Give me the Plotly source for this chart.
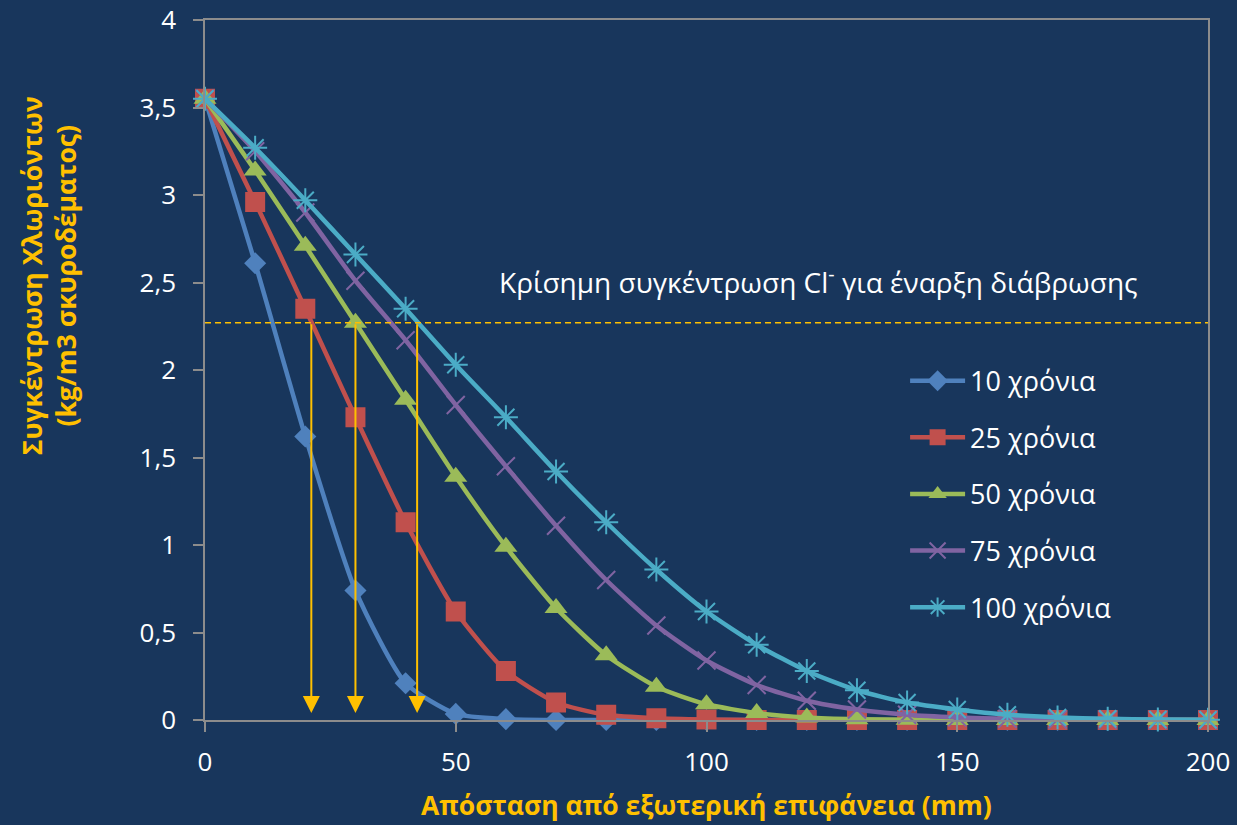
import plotly.graph_objects as go

# ---------------- data ----------------
distance_mm = [0, 10, 20, 30, 40, 50, 60, 70, 80, 90, 100, 110, 120, 130, 140, 150, 160, 170, 180, 190, 200]

years_10 = [3.55, 2.61, 1.62, 0.74, 0.21, 0.035, 0.005, 0.0, 0.0, 0.0, 0.0, 0.0, 0.0, 0.0, 0.0, 0.0, 0.0, 0.0, 0.0, 0.0, 0.0]
years_25 = [3.55, 2.96, 2.35, 1.73, 1.13, 0.62, 0.28, 0.10, 0.03, 0.01, 0.003, 0.0, 0.0, 0.0, 0.0, 0.0, 0.0, 0.0, 0.0, 0.0, 0.0]
years_50 = [3.55, 3.14, 2.71, 2.27, 1.83, 1.39, 0.99, 0.64, 0.37, 0.19, 0.09, 0.04, 0.015, 0.005, 0.002, 0.0, 0.0, 0.0, 0.0, 0.0, 0.0]
years_75 = [3.55, 3.25, 2.90, 2.51, 2.17, 1.80, 1.45, 1.11, 0.80, 0.54, 0.34, 0.20, 0.11, 0.06, 0.03, 0.015, 0.007, 0.003, 0.001, 0.0, 0.0]
years_100 = [3.55, 3.27, 2.97, 2.66, 2.35, 2.03, 1.73, 1.42, 1.13, 0.86, 0.62, 0.43, 0.28, 0.17, 0.10, 0.06, 0.03, 0.015, 0.007, 0.003, 0.001]

series_names = ["10 χρόνια", "25 χρόνια", "50 χρόνια", "75 χρόνια", "100 χρόνια"]
series_values = [years_10, years_25, years_50, years_75, years_100]

critical_value = 2.27
arrow_x = [21.2, 30.0, 42.3]
arrow_end = 0.04

critical_label = "Κρίσημη συγκέντρωση Cl<sup>-</sup> για έναρξη διάβρωσης"
x_title = "Απόσταση από εξωτερική επιφάνεια (mm)"
y_title = "Συγκέντρωση Χλωριόντων<br>(kg/m3 σκυροδέματος)"

x_ticks = [0, 50, 100, 150, 200]
y_ticks = [0, 0.5, 1, 1.5, 2, 2.5, 3, 3.5, 4]

# ---------------- styles ----------------
BG = "#18365C"
GOLD = "#FFC000"
AXIS = "#8C8C8C"
FONT = "Open Sans"
colors = ["#4F81BD", "#C0504D", "#9BBB59", "#8064A2", "#4BACC6"]
symbols = ["diamond", "square", "triangle-up", "x-thin-open", "asterisk-open"]
sizes = [17, 20, 20, 18, 20]

fig = go.Figure()

for i, (name, vals) in enumerate(zip(series_names, series_values)):
    open_sym = symbols[i].endswith("open")
    fig.add_trace(go.Scatter(
        x=distance_mm, y=vals, name=name, mode="lines+markers",
        legendgroup=f"g{i}",
        line=dict(color=colors[i], width=4.5, shape="spline", smoothing=0.6),
        marker=dict(symbol=symbols[i], size=sizes[i], color=colors[i],
                    line=dict(color=colors[i], width=2 if open_sym else 0)),
        cliponaxis=False,
    ))

# critical dashed line
fig.add_shape(type="line", xref="x", yref="y", x0=0, x1=200,
              y0=critical_value, y1=critical_value,
              line=dict(color=GOLD, width=1.5, dash="6px,4px"))

# arrows
for ax_ in arrow_x:
    fig.add_annotation(x=ax_, y=arrow_end, ax=ax_, ay=critical_value,
                       xref="x", yref="y", axref="x", ayref="y",
                       showarrow=True, arrowhead=2, arrowsize=1.7, arrowwidth=2,
                       arrowcolor=GOLD, text="")

fig.add_annotation(x=58.2, y=2.51, xref="x", yref="y", text=critical_label,
                   showarrow=False, xanchor="left", yanchor="middle",
                   font=dict(family=FONT, size=28, color="white"))

fig.add_annotation(x=0.5, y=-0.121, xref="paper", yref="paper", text=x_title,
                   showarrow=False, xanchor="center", yanchor="middle",
                   font=dict(family=FONT, size=26.5, color=GOLD, weight="bold"))

fig.add_annotation(x=-0.1555, y=0.634, xref="paper", yref="paper", text=y_title,
                   showarrow=False, xanchor="center", yanchor="middle", textangle=-90,
                   font=dict(family=FONT, size=26.5, color=GOLD, weight="bold"))

fig.update_layout(
    width=1237, height=825,
    margin=dict(l=205, r=29, t=20, b=105),
    paper_bgcolor=BG, plot_bgcolor=BG,
    separators=", ",
    font=dict(family=FONT, size=26, color="white"),
    showlegend=True,
    legend=dict(x=0.698, y=0.519, xanchor="left", yanchor="top",
                bgcolor="rgba(0,0,0,0)", font=dict(family=FONT, size=27, color="white"),
                itemwidth=55, tracegroupgap=18.5, traceorder="grouped"),
)

fig.update_xaxes(range=[0, 200], tickvals=x_ticks, showgrid=False, zeroline=False,
                 showline=True, linecolor=AXIS, linewidth=1.5, mirror=True,
                 ticks="outside", ticklen=10, tickcolor=AXIS, tickwidth=1.5,
                 ticklabelstandoff=8, automargin=False,
                 tickfont=dict(family=FONT, size=26, color="white"))
fig.update_yaxes(range=[0, 4], tickvals=y_ticks, showgrid=False, zeroline=False,
                 showline=True, linecolor=AXIS, linewidth=1.5, mirror=True,
                 ticks="outside", ticklen=10, tickcolor=AXIS, tickwidth=1.5,
                 ticklabelstandoff=12, automargin=False,
                 tickfont=dict(family=FONT, size=26, color="white"))

fig.write_html("out.html", config={"displayModeBar": False},
               post_script="document.body.style.margin='0px';document.body.style.overflow='hidden';")
